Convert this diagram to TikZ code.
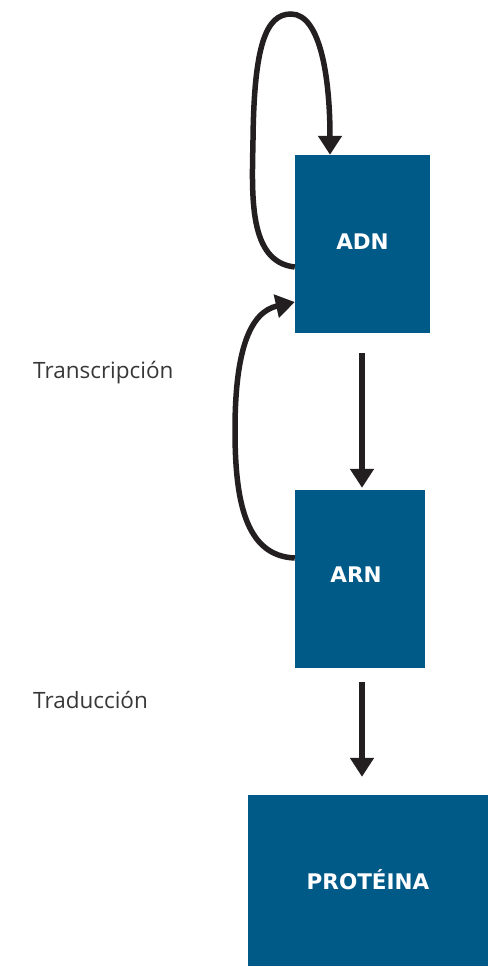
\documentclass[tikz,border=0pt]{standalone}
\usepackage{fontspec}
\setmainfont{Open Sans}
\newfontfamily\boxfont{DejaVu Sans}
\usetikzlibrary{arrows.meta}
\definecolor{boxblue}{RGB}{0,90,135}
\definecolor{arrowblack}{RGB}{35,31,32}
\definecolor{labelgray}{RGB}{55,55,55}
\tikzset{
  box/.style={fill=boxblue, draw=none, inner sep=0pt, text=white, font=\boxfont\bfseries\fontsize{21.5}{26}\selectfont},
  arr/.style={draw=arrowblack, line width=5.5pt, -{Triangle[width=23pt,length=19pt]}},
  lbl/.style={text=labelgray, inner sep=0pt, anchor=base west, font=\fontsize{22.5}{26}\selectfont}
}
\begin{document}
\begin{tikzpicture}[x=1pt,y=-1pt]
\useasboundingbox (0,0) rectangle (493,967);
\node[box, minimum width=135pt, minimum height=178pt] (adn) at (362.5,244) {\raisebox{4pt}{ADN}};
\node[box, minimum width=130pt, minimum height=178pt] (arn) at (360,579) {\hspace*{-8pt}\raisebox{8pt}{ARN}};
\node[box, minimum width=240pt, minimum height=171pt] (prot) at (368,880.5) {\raisebox{1pt}{PROTÉINA}};
\node[lbl] (trans) at (33,378) {Transcripción};
\node[lbl] (trad) at (33,708) {Traducción};
% self loop on ADN
\draw[arr] ([yshift=-23pt]adn.west) .. controls (248,262) and (252,195) .. (253,140)
  .. controls (254,45) and (266,14) .. (291,14)
  .. controls (321,14) and (330,80) .. ([xshift=-32.5pt]adn.north);
% ARN back to ADN
\draw[arr] ([yshift=21pt]arn.west) .. controls (245,556) and (235,500) .. (235,430)
  .. controls (235,350) and (250,312) .. ([yshift=-58pt]adn.west);
% straight arrows
\coordinate (a1s) at ([xshift=-0.5pt,yshift=-20pt]adn.south);
\coordinate (a1e) at ([yshift=2pt]arn.north -| a1s);
\draw[arr] (a1s) -- (a1e);
\coordinate (a2s) at ([xshift=2pt,yshift=-14pt]arn.south);
\coordinate (a2e) at ([yshift=18pt]prot.north -| a2s);
\draw[arr] (a2s) -- (a2e);
\end{tikzpicture}
\end{document}
